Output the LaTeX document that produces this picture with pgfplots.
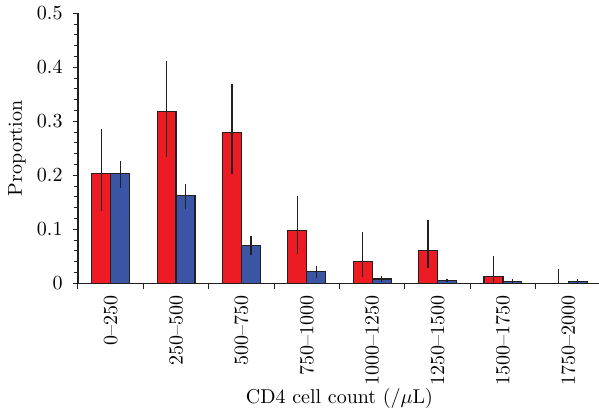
\documentclass[border=0pt]{standalone}
\usepackage{pgfplots}
\pgfplotsset{compat=1.18}
\definecolor{barred}{HTML}{ED1C24}
\definecolor{barblue}{HTML}{3A55A4}
\definecolor{edge}{HTML}{231F20}
\begin{document}
\begin{tikzpicture}
\begin{axis}[
  name=ax,
  scale only axis,
  width=261.5pt, height=135pt,
  xmin=-0.5, xmax=7.5,
  ymin=0, ymax=0.5,
  axis x line=bottom, axis y line=left,
  axis line style={-, edge, line width=0.6pt},
  tick align=outside,
  major tick length=2.7pt,
  minor tick length=1.8pt,
  tick style={edge, line width=0.5pt},
  ytick={0,0.1,0.2,0.3,0.4,0.5},
  minor y tick num=4,
  xtick={-0.5,0.5,...,7.5},
  x tick label as interval,
  xticklabels={0--250,250--500,500--750,750--1000,1000--1250,1250--1500,1500--1750,1750--2000},
  xticklabel style={rotate=90, anchor=east},
  yticklabel style={xshift=-1.5pt},
  ybar,
  bar width=0.29,
  xlabel={CD4 cell count (/$\mu$L)},
  ylabel={Proportion},
  every axis x label/.style={at={(axis description cs:0.5,-0.4285)}, anchor=center},
  every axis y label/.style={at={(axis description cs:-0.1166,0.5)}, anchor=center, rotate=90},
]
\addplot+[bar shift=-0.145, fill=barred, draw=edge, line width=0.6pt,
  error bars/.cd, y dir=both, y explicit, error mark=none,
  error bar style={edge, line width=0.6pt}]
coordinates {
 (0,0.204) += (0,0.082) -= (0,0.070)
 (1,0.318) += (0,0.094) -= (0,0.085)
 (2,0.280) += (0,0.090) -= (0,0.078)
 (3,0.098) += (0,0.064) -= (0,0.044)
 (4,0.040) += (0,0.055) -= (0,0.028)
 (5,0.060) += (0,0.057) -= (0,0.032)
 (6,0.012) += (0,0.039) -= (0,0.012)
 (7,0.000) += (0,0.0265) -= (0,0.000)
};
\addplot+[bar shift=0.145, fill=barblue, draw=edge, line width=0.6pt,
  error bars/.cd, y dir=both, y explicit, error mark=none,
  error bar style={edge, line width=0.6pt}]
coordinates {
 (0,0.204) += (0,0.022) -= (0,0.027)
 (1,0.162) += (0,0.021) -= (0,0.025)
 (2,0.070) += (0,0.017) -= (0,0.018)
 (3,0.022) += (0,0.010) -= (0,0.0115)
 (4,0.008) += (0,0.005) -= (0,0.005)
 (5,0.005) += (0,0.003) -= (0,0.003)
 (6,0.004) += (0,0.004) -= (0,0.003)
 (7,0.003) += (0,0.0044) -= (0,0.003)
};
\end{axis}
\pgfresetboundingbox
\path[use as bounding box] ([shift={(-39pt,-63.85pt)}]ax.south west) rectangle ([shift={(-1pt,6.65pt)}]ax.north east);
\end{tikzpicture}
\end{document}
